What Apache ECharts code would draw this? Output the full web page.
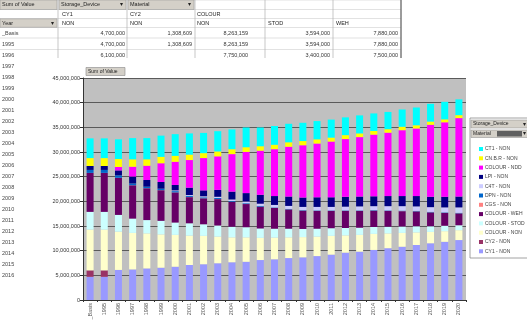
<!DOCTYPE html>
<html><head><meta charset="utf-8">
<script src="https://cdn.jsdelivr.net/npm/echarts@6/dist/echarts.min.js"></script>
<style>html,body{margin:0;padding:0;background:#fff}#c{width:527px;height:323px}</style>
</head><body><div id="c"></div><script>
// ---- categories (x axis) ----
const years = ['_Basis','1995','1996','1997','1998','1999','2000','2001','2002','2003','2004','2005','2006','2007','2008','2009','2010','2011','2012','2013','2014','2015','2016','2017','2018','2019','2020'];
// ---- table rows shown at the left (row labels) ----
const tableRowLabels = ['_Basis','1995','1996','1997','1998','1999','2000','2001','2002','2003','2004','2005','2006','2007','2008','2009','2010','2011','2012','2013','2014','2015','2016'];
const tableHeader1 = ['Sum of Value','Storage_Device','Material'];
const tableHeader2 = ['CY1','CY2','COLOUR'];
const tableHeader3 = ['Year','NON','NON','NON','STOD','WEH'];
const yTickStep = 5; // millions
const yMax = 45;     // millions

// ---- series values (millions), bottom of stack first ----
const cy1Non   = [4.7,4.7,6.1,6.2,6.4,6.55,6.75,7.1,7.25,7.45,7.65,7.75,8.1,8.25,8.5,8.65,8.9,9.2,9.6,9.8,10.15,10.5,10.8,11.15,11.5,11.8,12.15];
const cy2Non   = [1.308609,1.308609,0,0,0,0,0,0,0,0,0,0,0,0,0,0,0,0,0,0,0,0,0,0,0,0,0];
const colNon   = [8.263159,8.263159,7.75,7.4,7.1,6.75,6.45,5.95,5.75,5.4,5.05,4.95,4.5,4.4,4.2,4.1,3.95,3.8,3.5,3.4,3.25,3.0,2.8,2.55,2.3,2.15,2.0];
const colStod  = [3.594,3.594,3.4,2.9,2.7,2.75,2.5,2.5,2.35,2.25,2.15,2.05,1.9,1.8,1.75,1.65,1.6,1.55,1.5,1.45,1.4,1.35,1.3,1.25,1.15,1.1,1.0];
const colWeh   = [7.88,7.88,7.5,6.75,6.45,6.2,6.1,5.3,5.25,5.35,5.05,4.7,4.4,4.2,3.9,3.7,3.6,3.5,3.45,3.4,3.3,3.2,3.1,3.0,2.8,2.6,2.4];
const cgsNon   = [0.02,0.02,0.02,0.02,0.02,0.02,0.02,0.02,0.02,0.02,0.02,0.02,0.02,0.02,0.02,0.02,0.02,0.02,0.02,0.02,0.02,0.02,0.02,0.02,0.02,0.02,0.02];
const dpnNon   = [0.6,0.6,0.5,0.35,0.3,0.3,0.25,0.2,0.2,0.2,0.15,0.15,0.15,0.1,0.1,0.1,0.1,0.1,0.1,0.1,0.1,0.1,0.1,0.1,0.1,0.1,0.1];
const c4tNon   = [0,0,0,0,0,0,0.15,0.2,0.2,0.25,0.3,0.35,0.45,0.5,0.6,0.65,0.7,0.7,0.75,0.8,0.8,0.85,0.9,0.9,0.95,1.0,1.1];
const lpiNon   = [0.8,0.8,1.0,1.4,1.35,1.35,1.1,1.5,1.2,1.4,1.6,1.7,1.8,1.8,1.9,1.9,1.95,1.95,2.0,2.0,2.0,2.05,2.05,2.1,2.1,2.15,2.2];
const colNdd   = [0,0,0.7,2.0,2.9,3.8,4.7,5.6,6.55,6.8,7.6,8.35,8.95,9.5,10.1,10.6,10.9,11.3,11.7,12.05,12.5,12.85,13.35,13.7,14.6,15.1,15.9];
const cnbrNon  = [1.6,1.6,1.6,1.5,1.3,1.3,1.2,1.1,1.0,1.0,1.0,0.95,0.9,0.9,0.9,0.85,0.85,0.8,0.8,0.75,0.75,0.7,0.7,0.65,0.65,0.6,0.6];
const ct1Non   = [4.0,4.0,4.0,4.3,4.3,4.3,4.4,4.3,4.1,4.1,4.0,4.0,3.8,3.8,3.75,3.7,3.7,3.65,3.6,3.65,3.55,3.5,3.5,3.6,3.6,3.55,3.2];

const seriesDefs = [
  ['CY1 - NON', cy1Non, '#9999FF'],
  ['CY2 - NON', cy2Non, '#993366'],
  ['COLOUR - NON', colNon, '#FFFFCC'],
  ['COLOUR - STOD', colStod, '#CCFFFF'],
  ['COLOUR - WEH', colWeh, '#660066'],
  ['CGS - NON', cgsNon, '#FF8080'],
  ['DPN - NON', dpnNon, '#0066CC'],
  ['C4T - NON', c4tNon, '#CCCCFF'],
  ['LPI - NON', lpiNon, '#000080'],
  ['COLOUR - NDD', colNdd, '#FF00FF'],
  ['CN.B.R - NON', cnbrNon, '#FFFF00'],
  ['CT1 - NON', ct1Non, '#00FFFF']
];

function fmt(n){ return Math.round(n).toString().replace(/\B(?=(\d{3})+(?!\d))/g, ','); }

// ---- background spreadsheet (text) ----
const g = [];
const Z = -5;
const btn = (x,y,w,h,text,arrow)=>{
  g.push({type:'rect', z:Z, shape:{x,y,width:w,height:h}, style:{fill:'#D4D0C8', stroke:'#9a9a9a', lineWidth:0.6}});
  g.push({type:'text', z:Z, x:x+2, y:y+h/2, style:{text, fontSize:5.5, fill:'#222', verticalAlign:'middle', fontFamily:'Arial'}});
  if(arrow) g.push({type:'text', z:Z, x:x+w-3, y:y+h/2, style:{text:'▾', fontSize:6, fill:'#222', align:'right', verticalAlign:'middle'}});
};
[0,9.5,18.5,27.5,38,49.5].forEach(y=>g.push({type:'line', z:Z, shape:{x1:0,y1:y,x2:401,y2:y}, style:{stroke:'#cfcfcf', lineWidth:0.6}}));
[58,127,195,265,333,401].forEach(x=>g.push({type:'line', z:Z, shape:{x1:x,y1:0,x2:x,y2:60}, style:{stroke:'#b0b0b0', lineWidth:0.7}}));
g.push({type:'line', z:Z, shape:{x1:401,y1:0,x2:401,y2:62}, style:{stroke:'#555', lineWidth:1}});
btn(0,0,57,9.5,tableHeader1[0],false);
btn(59,0,67,9.5,tableHeader1[1],true);
btn(128,0,66,9.5,tableHeader1[2],true);
g.push({type:'text', z:Z, x:62, y:14, style:{text:tableHeader2[0], fontSize:5.5, fill:'#222', verticalAlign:'middle'}});
g.push({type:'text', z:Z, x:130, y:14, style:{text:tableHeader2[1], fontSize:5.5, fill:'#222', verticalAlign:'middle'}});
g.push({type:'text', z:Z, x:197, y:14, style:{text:tableHeader2[2], fontSize:5.5, fill:'#222', verticalAlign:'middle'}});
btn(0,18.8,57,8.5,tableHeader3[0],true);
[62,130,197,268,336].forEach((x,i)=>g.push({type:'text', z:Z, x, y:23, style:{text:tableHeader3[i+1], fontSize:5.5, fill:'#222', verticalAlign:'middle'}}));
tableRowLabels.forEach((t,i)=>{
  const y = 33 + i*11;
  g.push({type:'text', z:Z, x:2, y, style:{text:t, fontSize:5.5, fill:'#444', verticalAlign:'middle'}});
});
const colsRight = [125,192,248,330,398];
const tableSeries = [cy1Non, cy2Non, colNon, colStod, colWeh];
[0,1,2].forEach(r=>{
  const y = 33 + r*11;
  tableSeries.forEach((arr,c)=>{
    if(arr[r]>0) g.push({type:'text', z:Z, x:colsRight[c], y, style:{text:fmt(arr[r]*1e6), fontSize:5.5, fill:'#333', align:'right', verticalAlign:'middle'}});
  });
});
// chart window cover
g.push({type:'rect', z:-4, shape:{x:40,y:58,width:487,height:265}, style:{fill:'#fff'}});
// "Sum of Value" field button on the chart
g.push({type:'rect', z:10, shape:{x:86,y:67.5,width:39,height:8}, style:{fill:'#D4D0C8', stroke:'#888', lineWidth:0.6}});
g.push({type:'text', z:10, x:88, y:71.5, style:{text:tableHeader1[0], fontSize:5, fill:'#222', verticalAlign:'middle'}});
// legend frame and field buttons
g.push({type:'rect', z:3, shape:{x:470,y:118,width:70,height:140}, style:{fill:'#fff', stroke:'#8a8a8a', lineWidth:0.8}});
g.push({type:'rect', z:4, shape:{x:471,y:120,width:60,height:8}, style:{fill:'#D4D0C8', stroke:'#888', lineWidth:0.5}});
g.push({type:'text', z:4, x:473, y:124, style:{text:'Storage_Device', fontSize:5, fill:'#222', verticalAlign:'middle'}});
g.push({type:'text', z:4, x:526, y:124, style:{text:'▾', fontSize:6, fill:'#222', align:'right', verticalAlign:'middle'}});
g.push({type:'rect', z:4, shape:{x:471,y:130,width:60,height:7.5}, style:{fill:'#D4D0C8', stroke:'#888', lineWidth:0.5}});
g.push({type:'rect', z:4, shape:{x:497,y:131,width:25,height:5.5}, style:{fill:'#606060'}});
g.push({type:'text', z:4, x:473, y:133.8, style:{text:tableHeader1[2], fontSize:5, fill:'#222', verticalAlign:'middle'}});
g.push({type:'text', z:4, x:526, y:133.8, style:{text:'▾', fontSize:6, fill:'#222', align:'right', verticalAlign:'middle'}});

const chart = echarts.init(document.getElementById('c'), null, {renderer:'canvas'});
chart.setOption({
  animation:false,
  backgroundColor:'#fff',
  graphic:{elements:g},
  grid:{left:83, right:61, top:78, bottom:23, show:true, backgroundColor:'#C0C0C0', borderWidth:0},
  legend:{
    orient:'vertical', left:474, top:141, z:6,
    data: seriesDefs.map(s=>s[0]).reverse(),
    icon:'rect', itemWidth:4, itemHeight:4, itemGap:3.3,
    textStyle:{fontSize:5, color:'#444', lineHeight:6, padding:[0,0,0,-3], fontFamily:'Arial'}
  },
  xAxis:{
    type:'category', data:years,
    axisLine:{lineStyle:{color:'#333', width:1}},
    axisTick:{show:true, length:2, lineStyle:{color:'#333'}},
    axisLabel:{rotate:90, fontSize:5.5, color:'#555', margin:3, interval:0, fontFamily:'Arial'}
  },
  yAxis:{
    type:'value', min:0, max:yMax, interval:yTickStep,
    axisLine:{show:true, lineStyle:{color:'#333'}},
    axisTick:{show:true, length:3, lineStyle:{color:'#333'}},
    splitLine:{show:true, lineStyle:{color:'#5a5a5a', width:1.2}},
    axisLabel:{fontSize:5.5, color:'#333', margin:3, fontFamily:'Arial', formatter:v=>fmt(v*1e6)}
  },
  series: seriesDefs.map(([name,data,color])=>({
    name, type:'bar', stack:'total', data, barWidth:7,
    itemStyle:{color}
  }))
});
</script></body></html>
